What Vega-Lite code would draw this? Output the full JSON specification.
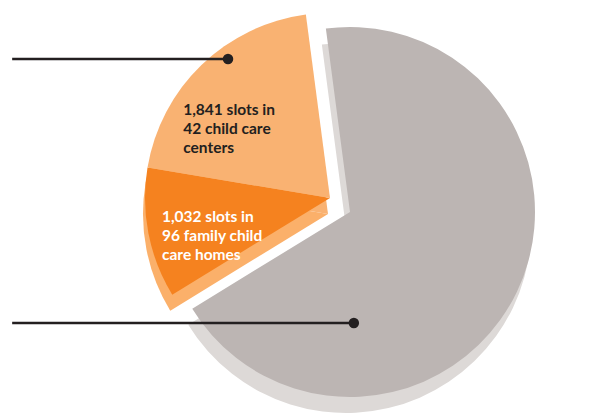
{
  "$schema": "https://vega.github.io/schema/vega-lite/v6.json",
  "width": 608,
  "height": 420,
  "autosize": {"type": "fit", "contains": "padding"},
  "padding": 0,
  "background": "white",
  "config": {"view": {"stroke": null}},
  "data": {
    "values": [
      {"kind": "other", "slots": 6200, "order": 1, "label": ""},
      {"kind": "homes", "slots": 1032, "order": 2, "label": "1,032 slots in\n96 family child\ncare homes"},
      {"kind": "centers", "slots": 1841, "order": 3, "label": "1,841 slots in\n42 child care\ncenters"}
    ]
  },
  "encoding": {
    "theta": {"field": "slots", "type": "quantitative", "stack": true, "scale": {"range": [-0.1309, 6.1523]}},
    "order": {"field": "order", "type": "quantitative"}
  },
  "layer": [
    {
      "mark": {"type": "arc", "radius": 185, "xOffset": 42, "yOffset": 18, "color": "#ddd9d7"},
      "encoding": {"opacity": {"condition": {"test": "datum.kind == 'other'", "value": 1}, "value": 0}}
    },
    {
      "mark": {"type": "arc", "radius": 185, "xOffset": 46, "yOffset": 2, "color": "#bcb5b3"},
      "encoding": {"opacity": {"condition": {"test": "datum.kind == 'other'", "value": 1}, "value": 0}}
    },
    {
      "mark": {"type": "arc", "radius": 185, "xOffset": 24, "yOffset": 4},
      "encoding": {
        "color": {"condition": {"test": "datum.kind == 'centers'", "value": "#f9b272"}, "value": "#fbb06a"},
        "opacity": {"condition": {"test": "datum.kind != 'other'", "value": 1}, "value": 0}
      }
    },
    {
      "mark": {"type": "arc", "radius": 185, "xOffset": 26, "yOffset": -12},
      "encoding": {
        "color": {"condition": {"test": "datum.kind == 'centers'", "value": "#f9b272"}, "value": "#f5821f"},
        "opacity": {"condition": {"test": "datum.kind != 'other'", "value": 1}, "value": 0}
      }
    },
    {
      "mark": {"type": "text", "radius": 122, "xOffset": 26, "yOffset": -12, "dx": -62, "lineBreak": "\n", "font": "Lato", "fontWeight": "bold", "fontSize": 15.5, "lineHeight": 19, "align": "left", "baseline": "middle"},
      "encoding": {
        "text": {"condition": {"test": "datum.kind == 'centers'", "field": "label"}, "value": ""},
        "color": {"value": "#231f20"}
      }
    },
    {
      "mark": {"type": "text", "radius": 108, "xOffset": 26, "yOffset": -12, "dx": -62, "dy": -2, "lineBreak": "\n", "font": "Lato", "fontWeight": "bold", "fontSize": 15.5, "lineHeight": 19, "align": "left", "baseline": "middle"},
      "encoding": {
        "text": {"condition": {"test": "datum.kind == 'homes'", "field": "label"}, "value": ""},
        "color": {"value": "#ffffff"}
      }
    },
    {
      "data": {"values": [{}]},
      "mark": {"type": "rule", "color": "#231f20", "strokeWidth": 2.5},
      "encoding": {
        "x": {"datum": 2, "type": "quantitative", "scale": {"domain": [0, 100]}, "axis": null},
        "x2": {"datum": 37.5},
        "y": {"datum": 14.05, "type": "quantitative", "scale": {"domain": [0, 100], "reverse": true}, "axis": null}
      }
    },
    {
      "data": {"values": [{}]},
      "mark": {"type": "rule", "color": "#231f20", "strokeWidth": 2.5},
      "encoding": {
        "x": {"datum": 2, "type": "quantitative"},
        "x2": {"datum": 58.2},
        "y": {"datum": 76.9, "type": "quantitative"}
      }
    },
    {
      "data": {"values": [{"cx": 37.5, "cy": 14.05}, {"cx": 58.2, "cy": 76.9}]},
      "mark": {"type": "point", "filled": true, "color": "#231f20", "opacity": 1, "size": 110},
      "encoding": {
        "x": {"field": "cx", "type": "quantitative"},
        "y": {"field": "cy", "type": "quantitative"}
      }
    }
  ]
}
